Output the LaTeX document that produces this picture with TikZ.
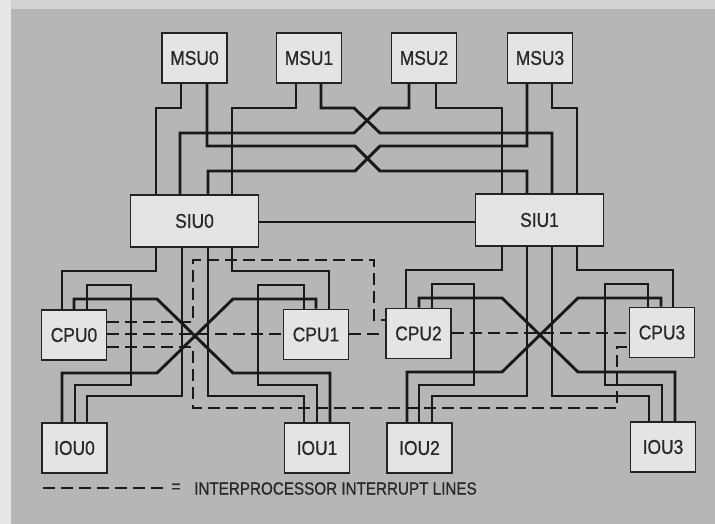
\documentclass[tikz,border=0pt]{standalone}
\usepackage{fontspec}
\newfontfamily\lbl[FakeStretch=0.87,FakeBold=0.8]{Liberation Sans}
\definecolor{bgray}{RGB}{182,182,182}
\definecolor{topstrip}{RGB}{210,210,210}
\definecolor{leftstrip}{RGB}{230,230,230}
\definecolor{boxfill}{RGB}{228,228,228}
\definecolor{boxline}{RGB}{35,35,35}
\definecolor{txt}{RGB}{40,40,40}
\begin{document}
\begin{tikzpicture}[x=1pt,y=-1pt,
  unit/.style={draw=boxline,line width=1.8pt,fill=boxfill,text=txt,minimum width=65pt,minimum height=50pt,inner sep=0pt,font=\lbl\fontsize{20}{20}\selectfont},
  siu/.style={unit,minimum width=128pt,minimum height=52pt},
  bus/.style={line width=2.9pt,black!90,line cap=butt,line join=miter},
  intline/.style={line width=2.9pt,black!90,dash pattern=on 12pt off 6pt},
  legfont/.style={font=\lbl\fontsize{17.5}{17.5}\selectfont,text=txt,inner sep=0pt}]
\useasboundingbox (0,0) rectangle (715,524);
\fill[leftstrip] (0,0) rectangle (715,524);
\fill[topstrip] (11,0) rectangle (715,9);
\fill[bgray] (11,9) rectangle (715,524);
% units
\node[unit] (msu0) at (194.5,58) {MSU0};
\node[unit] (msu1) at (309,58) {MSU1};
\node[unit] (msu2) at (424,58) {MSU2};
\node[unit] (msu3) at (540,58) {MSU3};
\node[siu] (siu0) at (194.5,221) {SIU0};
\node[siu] (siu1) at (539.5,220) {SIU1};
\node[unit] (cpu0) at (74,335) {CPU0};
\node[unit] (cpu1) at (316,334.5) {CPU1};
\node[unit] (cpu2) at (418.5,333.5) {CPU2};
\node[unit] (cpu3) at (662,332.5) {CPU3};
\node[unit] (iou0) at (74.5,448) {IOU0};
\node[unit] (iou1) at (317,448) {IOU1};
\node[unit] (iou2) at (419.5,448) {IOU2};
\node[unit] (iou3) at (663,447) {IOU3};
% MSU to SIU
\draw[bus] (msu0.south -| 181,0) -- (181,108) -- (156,108) -- (siu0.north -| 156,0);
\draw[bus] (msu0.south -| 207,0) -- (207,146) -- (355,146) -- (380,171) -- (527,171) -- (siu1.north -| 527,0);
\draw[bus] (msu1.south -| 296,0) -- (296,108) -- (232,108) -- (siu0.north -| 232,0);
\draw[bus] (msu1.south -| 321,0) -- (321,108) -- (354,108) -- (380,133) -- (552,133) -- (siu1.north -| 552,0);
\draw[bus] (msu2.south -| 409,0) -- (409,108) -- (380,108) -- (354,133) -- (180,133) -- (siu0.north -| 180,0);
\draw[bus] (msu2.south -| 436,0) -- (436,108) -- (502,108) -- (siu1.north -| 502,0);
\draw[bus] (msu3.south -| 527,0) -- (527,146) -- (380,146) -- (355,171) -- (208,171) -- (siu0.north -| 208,0);
\draw[bus] (msu3.south -| 552,0) -- (552,108) -- (577,108) -- (siu1.north -| 577,0);
% SIU to SIU
\draw[bus] (siu0.east |- 0,222) -- (siu1.west |- 0,222);
% SIU0 below
\draw[bus] (siu0.south -| 156,0) -- (156,271) -- (62,271) -- (cpu0.north -| 62,0);
\draw[bus] (siu0.south -| 232,0) -- (232,271) -- (329,271) -- (cpu1.north -| 329,0);
\draw[bus] (siu0.south -| 182,0) -- (182,396) -- (87,396) -- (iou0.north -| 87,0);
\draw[bus] (siu0.south -| 208,0) -- (208,396) -- (304,396) -- (iou1.north -| 304,0);
% CPU0 / CPU1 to IOU0 / IOU1
\draw[bus] (cpu0.north -| 87,0) -- (87,285) -- (131,285) -- (131,385) -- (75,385) -- (iou0.north -| 75,0);
\draw[bus] (cpu0.north -| 74,0) -- (74,299) -- (157,299) -- (233,373) -- (330,373) -- (iou1.north -| 330,0);
\draw[bus] (cpu1.north -| 304,0) -- (304,285) -- (258,285) -- (258,385) -- (317,385) -- (iou1.north -| 317,0);
\draw[bus] (cpu1.north -| 316,0) -- (316,299) -- (233,299) -- (157,373) -- (62,373) -- (iou0.north -| 62,0);
% SIU1 below
\draw[bus] (siu1.south -| 502,0) -- (502,270) -- (406,270) -- (cpu2.north -| 406,0);
\draw[bus] (siu1.south -| 577,0) -- (577,270) -- (673,270) -- (cpu3.north -| 673,0);
\draw[bus] (siu1.south -| 527,0) -- (527,396) -- (432,396) -- (iou2.north -| 432,0);
\draw[bus] (siu1.south -| 552,0) -- (552,396) -- (649,396) -- (iou3.north -| 649,0);
% CPU2 / CPU3 to IOU2 / IOU3
\draw[bus] (cpu2.north -| 432,0) -- (432,284) -- (474,284) -- (474,385) -- (419,385) -- (iou2.north -| 419,0);
\draw[bus] (cpu2.north -| 419,0) -- (419,298) -- (502,298) -- (578,372) -- (675,372) -- (iou3.north -| 675,0);
\draw[bus] (cpu3.north -| 648,0) -- (648,284) -- (605,284) -- (605,385) -- (662,385) -- (iou3.north -| 662,0);
\draw[bus] (cpu3.north -| 661,0) -- (661,298) -- (578,298) -- (502,372) -- (407,372) -- (iou2.north -| 407,0);
% interprocessor interrupt lines
\draw[intline] (cpu0.east |- 0,334) -- (cpu1.west |- 0,334);
\draw[intline] (cpu0.east |- 0,322) -- (193,322) -- (193,260) -- (374,260) -- (374,320) -- (cpu2.west |- 0,320);
\draw[intline] (cpu0.east |- 0,347) -- (193,347) -- (193,408) -- (617,408) -- (617,347) -- (cpu3.west |- 0,347);
\draw[intline] (cpu1.east |- 0,334) -- (cpu2.west |- 0,334);
\draw[intline] (cpu2.east |- 0,333) -- (cpu3.west |- 0,333);
% legend
\coordinate (legA) at (43,488);
\coordinate (legB) at (163,488);
\draw[intline] (legA) -- (legB);
\node[legfont] (legeq) at (176,488) {=};
\node[legfont,anchor=west] (legtxt) at (194,488.5) {INTERPROCESSOR INTERRUPT LINES};
\end{tikzpicture}
\end{document}
